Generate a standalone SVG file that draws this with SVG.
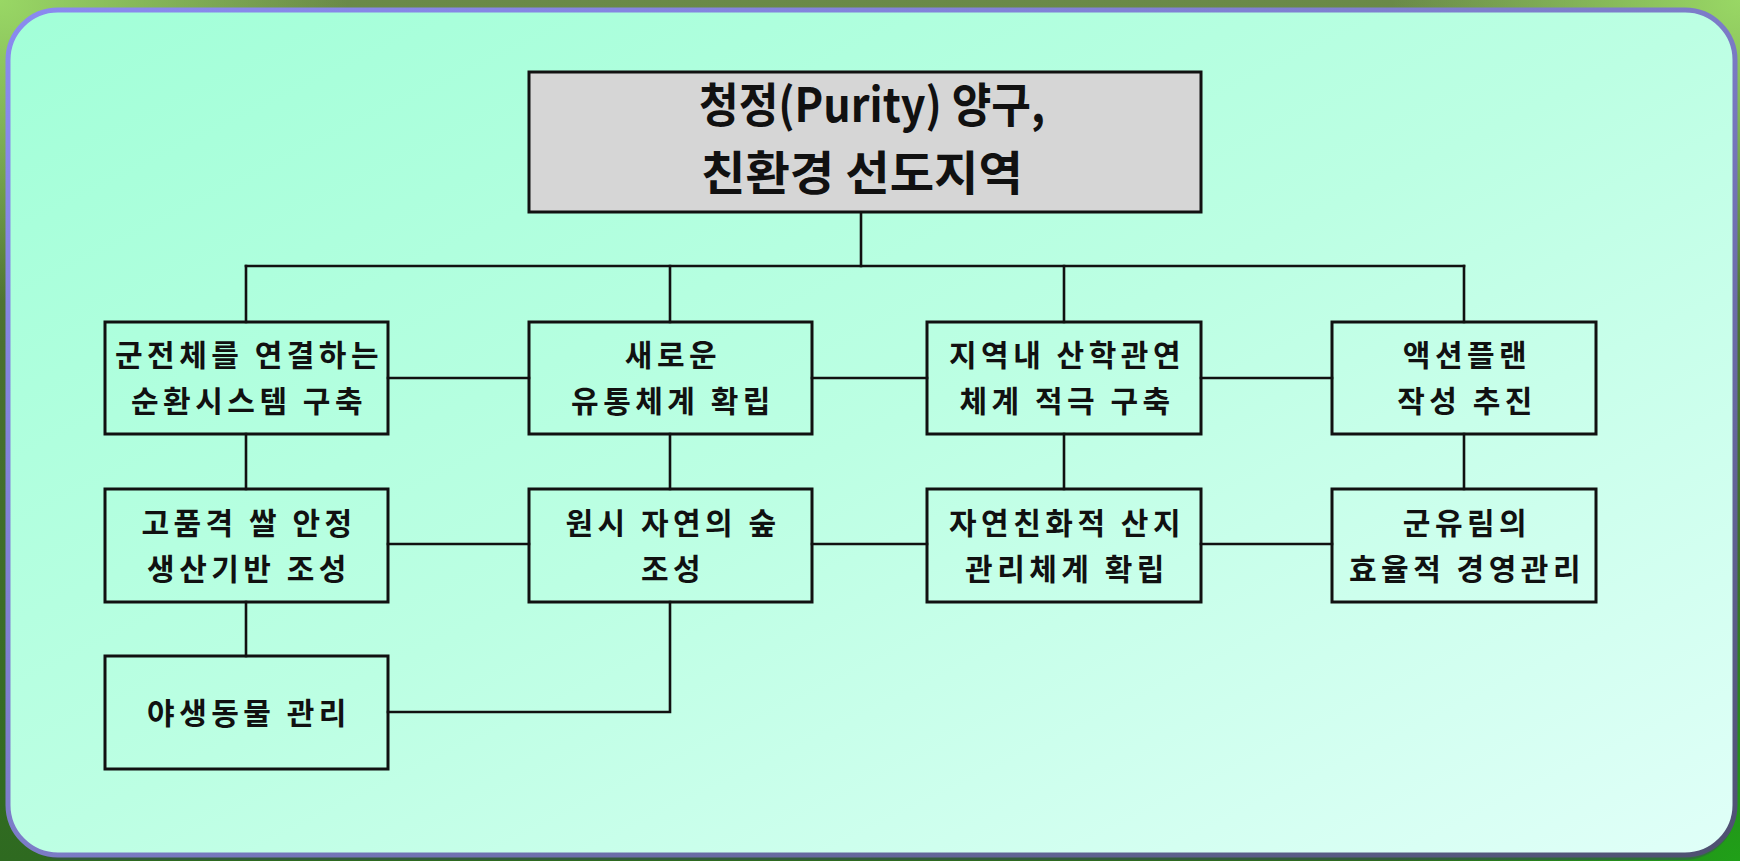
<svg xmlns="http://www.w3.org/2000/svg" width="1740" height="861" viewBox="0 0 1740 861">
  <defs>
    <linearGradient id="bg" x1="0" y1="0" x2="0" y2="1">
      <stop offset="0" stop-color="#6a8a48"/>
      <stop offset="0.4" stop-color="#4a7030"/>
      <stop offset="1" stop-color="#2e6a20"/>
    </linearGradient>
    <radialGradient id="bgTL" cx="0" cy="0" r="1">
      <stop offset="0" stop-color="#9ee068"/>
      <stop offset="1" stop-color="#9ee068" stop-opacity="0"/>
    </radialGradient>
    <radialGradient id="bgTR" cx="1" cy="0" r="1">
      <stop offset="0" stop-color="#9ee068"/>
      <stop offset="1" stop-color="#9ee068" stop-opacity="0"/>
    </radialGradient>
    <radialGradient id="bgBR" cx="1" cy="1" r="1">
      <stop offset="0" stop-color="#20a018"/>
      <stop offset="1" stop-color="#20a018" stop-opacity="0"/>
    </radialGradient>
    <linearGradient id="panel" x1="0" y1="0" x2="1" y2="1">
      <stop offset="0" stop-color="#a2ffd8"/>
      <stop offset="0.5" stop-color="#bcffe3"/>
      <stop offset="1" stop-color="#e0fff8"/>
    </linearGradient>
    <linearGradient id="rim" x1="0" y1="0" x2="1" y2="1">
      <stop offset="0" stop-color="#8a8af0"/>
      <stop offset="0.5" stop-color="#7c7cc8"/>
      <stop offset="1" stop-color="#4e5070"/>
    </linearGradient>
    <linearGradient id="hl" x1="0" y1="0" x2="0" y2="1">
      <stop offset="0" stop-color="#f0fffd" stop-opacity="0.95"/>
      <stop offset="1" stop-color="#f0fffd" stop-opacity="0"/>
    </linearGradient>
    <style>
      .box { fill: none; stroke: #111; stroke-width: 3; }
      .top { fill: #d6d6d6; stroke: #111; stroke-width: 3; }
      .conn { fill: none; stroke: #111; stroke-width: 2.6; stroke-linecap: square; }
      .lbl { font-family: "Noto Sans CJK KR", "Noto Sans", sans-serif; font-size: 30px; font-weight: 700; fill: #111; text-anchor: middle; letter-spacing: 4.5px; }
      .ttl { font-family: "Noto Sans CJK KR", "Noto Sans", sans-serif; font-size: 47px; font-weight: 700; fill: #111; text-anchor: middle; }
    </style>
  </defs>

  <!-- background -->
  <rect x="0" y="0" width="1740" height="861" fill="url(#bg)"/>
  <rect x="0" y="0" width="1740" height="861" fill="url(#bgTL)" opacity="0.9" transform="scale(0.2 0.35)"/>
  <rect x="0" y="0" width="1740" height="861" fill="url(#bgTR)" opacity="0.9" transform="translate(1392 0) scale(0.2 0.35)"/>
  <rect x="0" y="0" width="1740" height="861" fill="url(#bgBR)" transform="translate(1392 560) scale(0.2 0.35)"/>

  <!-- panel -->
  <rect x="12" y="14" width="1724" height="846" rx="52" fill="#3c4a5a" opacity="0.45"/>
  <rect x="8" y="10" width="1727" height="845" rx="50" fill="url(#panel)" stroke="url(#rim)" stroke-width="5"/>
  <path d="M 58 16 H 1685" stroke="url(#hl)" stroke-width="8" opacity="0.9"/>

  <!-- connectors -->
  <g id="connectors">
    <path class="conn" d="M861 212 V266"/>
    <path class="conn" d="M246 266 H1464"/>
    <path class="conn" d="M246 266 V322 M670 266 V322 M1064 266 V322 M1464 266 V322"/>
    <path class="conn" d="M388 378 H529 M812 378 H927 M1201 378 H1332"/>
    <path class="conn" d="M388 544 H529 M812 544 H927 M1201 544 H1332"/>
    <path class="conn" d="M246 434 V489 M670 434 V489 M1064 434 V489 M1464 434 V489"/>
    <path class="conn" d="M246 602 V656"/>
    <path class="conn" d="M388 712 H670 V602"/>
  </g>

  <!-- nodes -->
  <g id="root">
    <rect class="top" x="529" y="72" width="672" height="140"/>
    <text class="ttl" x="872" y="122" textLength="346" lengthAdjust="spacingAndGlyphs">청정(Purity) 양구,</text>
    <text class="ttl" x="862" y="190" textLength="322" lengthAdjust="spacingAndGlyphs">친환경 선도지역</text>
  </g>

  <g id="n-a1">
    <rect class="box" x="105" y="322" width="283" height="112"/>
    <text class="lbl" x="249" y="366">군전체를 연결하는</text>
    <text class="lbl" x="249" y="412">순환시스템 구축</text>
  </g>
  <g id="n-b1">
    <rect class="box" x="529" y="322" width="283" height="112"/>
    <text class="lbl" x="673" y="366">새로운</text>
    <text class="lbl" x="673" y="412">유통체계 확립</text>
  </g>
  <g id="n-c1">
    <rect class="box" x="927" y="322" width="274" height="112"/>
    <text class="lbl" x="1067" y="366">지역내 산학관연</text>
    <text class="lbl" x="1067" y="412">체계 적극 구축</text>
  </g>
  <g id="n-d1">
    <rect class="box" x="1332" y="322" width="264" height="112"/>
    <text class="lbl" x="1467" y="366">액션플랜</text>
    <text class="lbl" x="1467" y="412">작성 추진</text>
  </g>

  <g id="n-a2">
    <rect class="box" x="105" y="489" width="283" height="113"/>
    <text class="lbl" x="249" y="534">고품격 쌀 안정</text>
    <text class="lbl" x="249" y="580">생산기반 조성</text>
  </g>
  <g id="n-b2">
    <rect class="box" x="529" y="489" width="283" height="113"/>
    <text class="lbl" x="673" y="534">원시 자연의 숲</text>
    <text class="lbl" x="673" y="580">조성</text>
  </g>
  <g id="n-c2">
    <rect class="box" x="927" y="489" width="274" height="113"/>
    <text class="lbl" x="1067" y="534">자연친화적 산지</text>
    <text class="lbl" x="1067" y="580">관리체계 확립</text>
  </g>
  <g id="n-d2">
    <rect class="box" x="1332" y="489" width="264" height="113"/>
    <text class="lbl" x="1467" y="534">군유림의</text>
    <text class="lbl" x="1467" y="580">효율적 경영관리</text>
  </g>

  <g id="n-a3">
    <rect class="box" x="105" y="656" width="283" height="113"/>
    <text class="lbl" x="249" y="724">야생동물 관리</text>
  </g>
</svg>
